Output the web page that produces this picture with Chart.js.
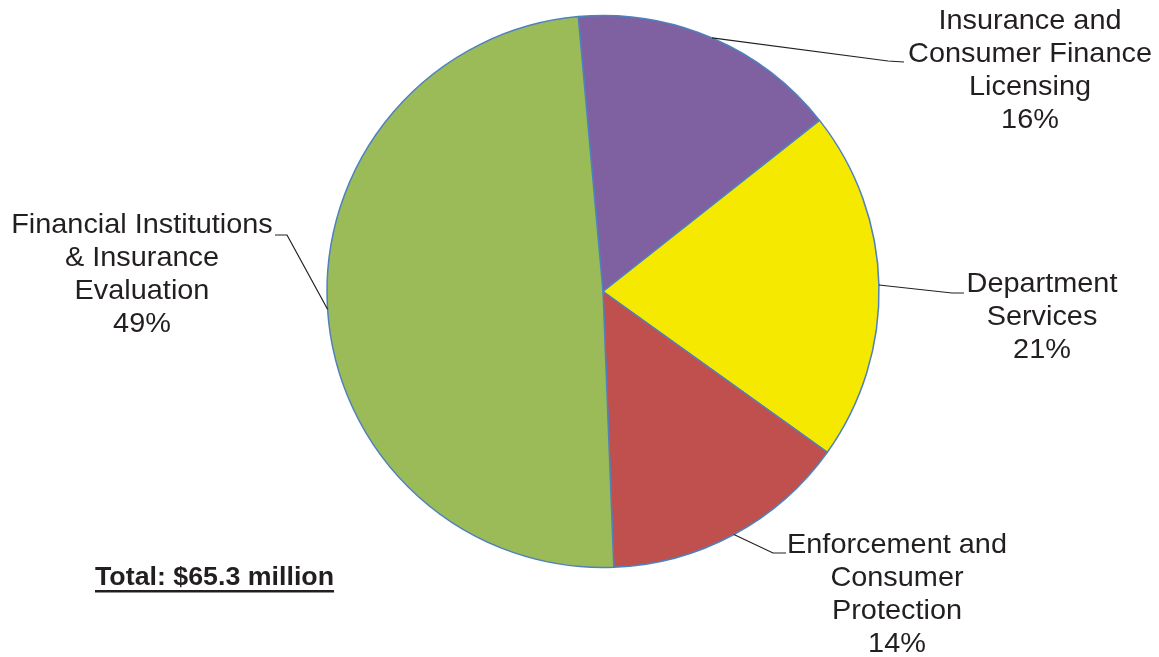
<!DOCTYPE html>
<html>
<head>
	<meta charset="utf-8">
	<title>Budget by Program</title>
	<script src="https://cdn.jsdelivr.net/npm/chart.js@4.4.0/dist/chart.umd.min.js"></script>
	<style>
		body { margin: 0; background: #fff; }
	</style>
</head>
<body>

	<canvas id="mychart" width="1159" height="657"></canvas>

	<script type="text/javascript">

		// slices in clockwise order from the top ($ millions)
		const programs = [
			['Insurance and', 'Consumer Finance', 'Licensing'],
			['Department', 'Services'],
			['Enforcement and', 'Consumer', 'Protection'],
			['Financial Institutions', '& Insurance', 'Evaluation']
		];
		const amounts = [10.3, 13.4, 9.45, 32.1];
		const sliceColors = ['#7F60A1', '#F5E900', '#C0504D', '#9BBB59'];
		const totalText = 'Total: $65.3 million';

		// where each label sits: text centre x, first baseline y, and the leader elbow / end
		const labelLayout = [
			{ x: 1030, y: 29,  elbow: [888, 61],  end: [904, 62] },
			{ x: 1042, y: 292, elbow: [952, 293], end: [964, 293] },
			{ x: 897,  y: 553, elbow: [773, 553], end: [786, 553] },
			{ x: 142,  y: 233, elbow: [287, 235], end: [275, 235] }
		];

		const labelFont = '27.5px "Liberation Sans", Arial, sans-serif';
		const lineHeight = 33;
		const stretch = 1.05; // the original text is a little wide

		function wideText(ctx, t, x, y) {
			ctx.save();
			ctx.translate(x, y);
			ctx.scale(stretch, 1);
			ctx.fillText(t, 0, 0);
			ctx.restore();
		}

		const calloutPlugin = {
			id: 'callouts',
			afterDraw(chart) {
				const ctx = chart.ctx;
				const arcs = chart.getDatasetMeta(0).data;
				const total = amounts.reduce((a, b) => a + b, 0);

				ctx.save();
				ctx.strokeStyle = '#231F20';
				ctx.lineWidth = 1.2;
				ctx.fillStyle = '#231F20';
				ctx.font = labelFont;
				ctx.textAlign = 'center';
				ctx.textBaseline = 'alphabetic';

				arcs.forEach((arc, i) => {
					const p = arc.getProps(['x', 'y', 'startAngle', 'endAngle', 'outerRadius'], true);
					const mid = (p.startAngle + p.endAngle) / 2;
					const ax = p.x + Math.cos(mid) * p.outerRadius;
					const ay = p.y + Math.sin(mid) * p.outerRadius;
					const lay = labelLayout[i];

					ctx.beginPath();
					ctx.moveTo(ax, ay);
					ctx.lineTo(lay.elbow[0], lay.elbow[1]);
					ctx.lineTo(lay.end[0], lay.end[1]);
					ctx.stroke();

					const lines = programs[i].concat([Math.round(amounts[i] / total * 100) + '%']);
					lines.forEach((t, k) => {
						wideText(ctx, t, lay.x, lay.y + k * lineHeight);
					});
				});

				// total, bold and underlined
				ctx.font = 'bold 25.5px "Liberation Sans", Arial, sans-serif';
				ctx.textAlign = 'left';
				const tx = 95, ty = 585;
				wideText(ctx, totalText, tx, ty);
				const w = ctx.measureText(totalText).width * stretch;
				ctx.fillRect(tx, ty + 5, w, 2.5);
				ctx.restore();
			}
		};

		const ctx = document.getElementById('mychart').getContext('2d');

		const myChart = new Chart(ctx, {
			type: 'pie',
			data: {
				labels: programs.map(p => p.join(' ')),
				datasets: [{
					data: amounts,
					backgroundColor: sliceColors,
					borderColor: '#4F81BD',
					borderWidth: 1.5,
					radius: 276
				}]
			},
			options: {
				responsive: false,
				animation: false,
				rotation: -5.14,
				layout: { padding: { left: 300, right: 253, top: 10, bottom: 84 } },
				plugins: {
					legend: { display: false },
					tooltip: { enabled: false }
				}
			},
			plugins: [calloutPlugin]
		});

	</script>

</body>
</html>
